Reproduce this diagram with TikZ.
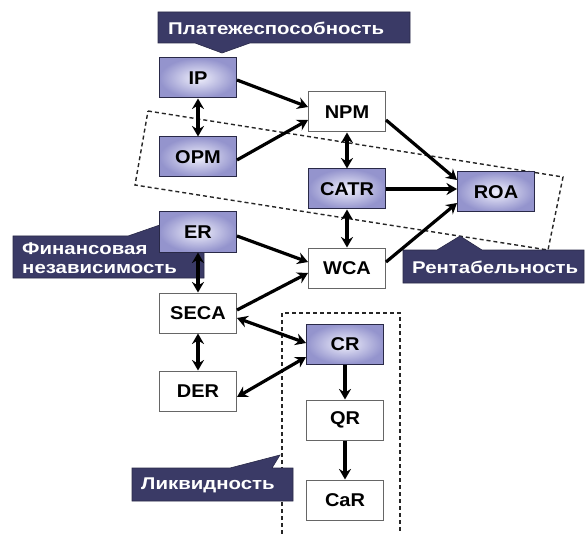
\documentclass[tikz,border=0pt]{standalone}
\usepackage{fontspec}
\setmainfont{Liberation Sans}
\newfontfamily\callfont{Liberation Sans}[FakeStretch=1.2]
\newfontfamily\boxfont{Liberation Sans}[FakeStretch=1.08]
\usetikzlibrary{arrows.meta}
\definecolor{navy}{RGB}{58,58,102}
\definecolor{lav}{RGB}{148,148,205}
\definecolor{lavin}{RGB}{240,240,252}
\begin{document}
\begin{tikzpicture}[x=1pt,y=-1pt,
  >={Stealth[length=10.5pt,width=12pt,inset=3.5pt]},
  box/.style={draw=black!60, line width=1pt, fill=white, minimum width=77pt, minimum height=40pt, inner sep=0pt, font=\boxfont\bfseries\fontsize{18.5}{20}\selectfont},
  sbox/.style={box, draw=navy!70!black, inner color=lavin, outer color=lav},
  call/.style={fill=navy, draw=navy!70!black, line width=0.6pt},
  calltext/.style={text=white, font=\callfont\bfseries\fontsize{17}{18.5}\selectfont, anchor=west, inner sep=0pt, align=left},
  arr/.style={line width=3.2pt, ->},
  darr/.style={line width=3.2pt, <->},
  frame/.style={line width=1.4pt, draw=black!85, dash pattern=on 4pt off 3pt}]
\useasboundingbox[fill=white] (0,0) rectangle (585,534);

% dashed frames
\draw[frame] (148,111) -- (563,177) -- (548,250) -- (135,185) -- cycle;
\draw[frame] (282,534) -- (282,313) -- (400,313) -- (400,534);

% callouts
\draw[call] (158,12) -- (410,12) -- (410,43) -- (250,43) -- (222,53) -- (195,43) -- (158,43) -- cycle;
\node[calltext] (tpl) at (168,28) {Платежеспособность};
\draw[call] (403,250) -- (437,250) -- (460,236) -- (482,250) -- (584,250) -- (584,283) -- (403,283) -- cycle;
\node[calltext] (trent) at (412,267) {Рентабельность};
\draw[call] (132,468) -- (230,468) -- (280,455) -- (272,468) -- (293,468) -- (293,501) -- (132,501) -- cycle;
\node[calltext] (tliq) at (141,485) {Ликвидность};
\draw[call] (13,236) -- (128,236) -- (180,218) -- (204,225) -- (204,278) -- (13,278) -- cycle;
\node[calltext] (tfin) at (22,258) {Финансовая\\независимость};

% boxes
\node[sbox] (IP)   at (198,78)  {IP};
\node[box]  (NPM)  at (347,112) {NPM};
\node[sbox] (OPM)  at (198,157) {OPM};
\node[sbox] (CATR) at (347,189) {CATR};
\node[sbox] (ROA)  at (496,192) {ROA};
\node[sbox] (ER)   at (198,232) {ER};
\node[box]  (WCA)  at (347,268) {WCA};
\node[box]  (SECA) at (198,313) {SECA};
\node[box]  (DER)  at (198,391) {DER};
\node[sbox] (CR)   at (345,344) {CR};
\node[box]  (QR)   at (345,420) {QR};
\node[box]  (CaR)  at (345,500) {CaR};

% connectors
\draw[arr] ([yshift=-2pt]IP.east) -- ([yshift=5pt]NPM.west);
\draw[arr] ([yshift=-3pt]OPM.east) -- ([yshift=-8pt]NPM.west);
\draw[darr] (IP.south) -- (OPM.north);
\draw[darr] (NPM.south) -- (CATR.north);
\draw[arr] ([yshift=-8pt]NPM.east) -- ([yshift=12pt]ROA.west);
\draw[arr] (CATR.east) -- (CATR.east -| ROA.west);
\draw[darr] (CATR.south) -- (WCA.north);
\draw[arr] ([yshift=6pt]WCA.east) -- ([yshift=-11pt]ROA.west);
\draw[arr] ([yshift=-4pt]ER.east) -- ([yshift=6pt]WCA.west);
\draw[darr] (ER.south) -- (SECA.north);
\draw[arr] ([yshift=3pt]SECA.east) -- ([yshift=-5pt]WCA.west);
\draw[darr] ([yshift=-5pt]SECA.east) -- ([yshift=1pt]CR.west);
\draw[darr] (SECA.south) -- (DER.north);
\draw[darr] ([yshift=-6pt]DER.east) -- ([yshift=-13pt]CR.west);
\draw[arr] (CR.south) -- (QR.north);
\draw[arr] (QR.south) -- (CaR.north);
\end{tikzpicture}
\end{document}
